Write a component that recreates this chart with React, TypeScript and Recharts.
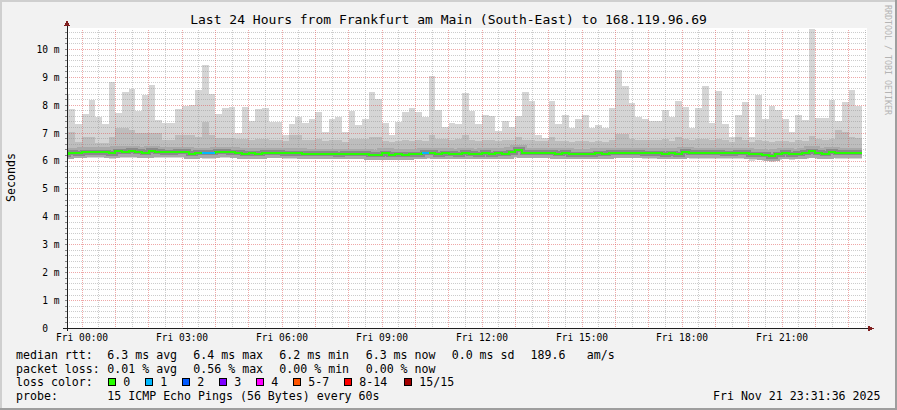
import React from "react";
import { Area, ComposedChart, Line, ReferenceLine, XAxis, YAxis } from "recharts";

const MONO = "'DejaVu Sans Mono', monospace";

const COLORS = {
  back: "#f2f2f2",
  canvas: "#ffffff",
  shadeA: "#cfcfcf",
  shadeB: "#9e9e9e",
  grid: "rgba(143,143,143,0.45)",
  mgrid: "rgba(222,79,79,0.5)",
  arrow: "#801f1f",
  axis: "#1f1f1f",
  smoke: "#d5d5d5",
  smokeMid: "#bdbdbd",
  smokeInner: "#a9a9a9",
  smokeCore: "#8a8a8a",
};

// minutes from Fri 00:00, the first bucket is cut by the left edge of the graph
const X_START = -27;
const X_END = 1413;
const DATA_END = 1404;
const bucketTimes = [X_START, ...Array.from({ length: 119 }, (_, i) => -24 + i * 12)];

// values in ms, one per 12 min bucket
const maxRtt = [
  8.42, 7.85, 7.33, 7.67, 8.18, 7.59, 7.33, 8.83, 7.71, 8.46, 8.6, 7.8, 8.36, 8.72, 7.47, 7.35, 7.37, 7.85, 7.97, 8.0,
  8.54, 9.44, 8.4, 7.68, 7.9, 7.94, 6.99, 7.92, 7.43, 7.85, 7.91, 7.41, 7.41, 6.93, 7.33, 7.59, 7.37, 7.5, 7.77, 7.04,
  7.5, 7.59, 7.05, 7.8, 7.29, 7.5, 8.48, 8.24, 7.37, 6.93, 7.41, 7.77, 7.89, 7.77, 7.59, 9.05, 7.83, 7.23, 7.35, 7.33,
  8.44, 7.8, 7.33, 7.65, 7.61, 7.08, 7.43, 7.21, 7.61, 8.48, 8.15, 6.93, 6.81, 8.15, 7.33, 7.65, 7.17, 7.5, 7.65, 7.17,
  7.29, 7.17, 7.91, 9.26, 8.7, 8.09, 7.59, 7.49, 7.43, 7.43, 7.83, 7.59, 8.16, 7.92, 7.19, 7.91, 8.69, 7.37, 8.5, 7.33,
  6.85, 7.65, 8.12, 6.85, 8.36, 7.49, 7.98, 7.83, 7.5, 7.05, 7.65, 7.47, 10.75, 7.55, 7.55, 8.18, 7.43, 8.12, 8.54, 7.98,
];

const upperRtt = [
  7.05, 7.05, 6.7, 6.85, 6.85, 6.66, 6.66, 6.85, 7.17, 7.17, 7.12, 7.0, 7.0, 7.0, 7.0, 6.75, 6.75, 6.93, 6.93, 6.93,
  6.87, 7.41, 6.93, 6.81, 6.81, 6.81, 6.78, 6.78, 6.74, 6.78, 6.8, 6.76, 6.76, 6.72, 6.93, 6.93, 6.75, 6.75, 6.78, 6.72,
  6.75, 6.75, 6.7, 6.8, 6.8, 6.8, 6.85, 6.85, 6.72, 6.7, 6.72, 6.75, 6.72, 6.75, 6.72, 6.93, 6.78, 6.78, 6.76, 6.78,
  6.93, 6.75, 6.72, 6.75, 6.75, 6.72, 6.75, 6.75, 6.85, 6.75, 6.75, 6.72, 6.72, 6.85, 6.72, 6.72, 6.7, 6.72, 6.72, 6.7,
  6.72, 6.7, 6.75, 6.97, 6.97, 6.8, 6.75, 6.75, 6.75, 6.75, 6.8, 6.72, 6.85, 6.78, 6.75, 6.78, 6.8, 6.75, 6.78, 6.75,
  6.7, 6.85, 6.75, 6.7, 6.75, 6.72, 6.7, 6.72, 6.72, 6.7, 6.75, 6.72, 6.9, 6.78, 6.75, 6.8, 7.1, 7.05, 6.85, 6.82,
];

const minRtt = [
  6.1, 6.1, 6.1, 6.1, 6.1, 6.1, 6.1, 6.08, 6.1, 6.1, 6.1, 6.1, 6.1, 6.1, 6.1, 6.1, 6.1, 6.1, 6.1, 6.08,
  6.1, 6.08, 6.08, 6.1, 6.1, 6.1, 6.1, 6.08, 6.08, 6.08, 6.1, 6.1, 6.1, 6.08, 6.08, 6.08, 6.08, 6.08, 6.08, 6.08,
  6.08, 6.06, 6.08, 6.08, 6.08, 6.08, 6.06, 6.06, 6.08, 6.06, 6.06, 6.06, 6.08, 6.08, 6.08, 6.08, 6.08, 6.08, 6.08, 6.08,
  6.08, 6.08, 6.08, 6.08, 6.06, 6.08, 6.08, 6.1, 6.12, 6.1, 6.1, 6.1, 6.1, 6.1, 6.08, 6.1, 6.06, 6.06, 6.06, 6.06,
  6.08, 6.08, 6.1, 6.1, 6.1, 6.1, 6.1, 6.08, 6.08, 6.08, 6.06, 6.08, 6.06, 6.1, 6.08, 6.08, 6.08, 6.08, 6.08, 6.08,
  6.08, 6.08, 6.08, 6.02, 6.04, 6.02, 5.97, 6.04, 6.08, 6.04, 6.06, 6.08, 6.12, 6.08, 6.06, 6.1, 6.08, 6.08, 6.08, 6.08,
];

const medianRtt = [
  6.25, 6.3, 6.28, 6.31, 6.31, 6.31, 6.31, 6.28, 6.36, 6.33, 6.37, 6.33, 6.3, 6.37, 6.34, 6.31, 6.31, 6.33, 6.33, 6.27,
  6.3, 6.3, 6.3, 6.33, 6.33, 6.32, 6.3, 6.26, 6.28, 6.26, 6.29, 6.29, 6.29, 6.28, 6.28, 6.28, 6.27, 6.27, 6.27, 6.27,
  6.27, 6.25, 6.27, 6.26, 6.26, 6.26, 6.23, 6.23, 6.28, 6.22, 6.24, 6.22, 6.25, 6.25, 6.29, 6.29, 6.24, 6.28, 6.27, 6.25,
  6.29, 6.27, 6.25, 6.29, 6.24, 6.28, 6.27, 6.31, 6.4, 6.3, 6.3, 6.3, 6.3, 6.3, 6.27, 6.3, 6.25, 6.24, 6.25, 6.24,
  6.28, 6.27, 6.3, 6.3, 6.3, 6.3, 6.3, 6.28, 6.28, 6.28, 6.24, 6.28, 6.24, 6.33, 6.3, 6.3, 6.3, 6.3, 6.3, 6.28,
  6.28, 6.3, 6.29, 6.24, 6.25, 6.23, 6.18, 6.25, 6.3, 6.25, 6.27, 6.3, 6.36, 6.3, 6.27, 6.33, 6.3, 6.3, 6.3, 6.3,
];

// buckets where 1 of 15 pings was lost
const lossOneBuckets = [21, 22, 54];

const hourTicks = [0, 180, 360, 540, 720, 900, 1080, 1260];
const yTicks = Array.from({ length: 54 }, (_, i) => Math.round(i * 2) / 10);
const majorY = yTicks.filter((v) => v > 0 && Number.isInteger(v));
const minorY = yTicks.filter((v) => v > 0 && !Number.isInteger(v));
const majorX = Array.from({ length: 24 }, (_, i) => i * 60);
const minorX = Array.from({ length: 24 }, (_, i) => 30 + i * 60);

const lossColors = [
  { label: "0", color: "#26ff00" },
  { label: "1", color: "#00b8ff" },
  { label: "2", color: "#0059ff" },
  { label: "3", color: "#7e00ff" },
  { label: "4", color: "#ff00ff" },
  { label: "5-7", color: "#ff5500" },
  { label: "8-14", color: "#ff0000" },
  { label: "15/15", color: "#a10000" },
];
const lossBoxX = [108.5, 145.5, 182.5, 219.5, 256.5, 293.5, 344.5, 404.5];

const rttStats = ["6.3 ms avg", "6.4 ms max", "6.2 ms min", "6.3 ms now", "0.0 ms sd"];
const lossStats = ["0.01 % avg", "0.56 % max", "0.00 % min", "0.00 % now"];
const statX = [107.3, 193.3, 279.3, 365.7, 451.7];

const rows = bucketTimes.map((t, i) => ({
  t,
  lo: minRtt[i],
  hi: maxRtt[i],
  up: upperRtt[i],
  med: medianRtt[i],
  loss: lossOneBuckets.includes(i) ? medianRtt[i] : lossOneBuckets.includes(i - 1) ? medianRtt[i - 1] : null,
}));
const lastRow = rows[rows.length - 1];
rows.push({ ...lastRow, t: DATA_END, loss: lossOneBuckets.includes(rows.length - 1) ? lastRow.med : null });

const pad = (n: number) => String(n).padStart(2, "0");
const fmtHour = (m: number) => `Fri ${pad(Math.floor(m / 60))}:00`;
// rrdtool keeps the unit column for the zero label too
const fmtSeconds = (v: number) => (v === 0 ? "0\u00a0\u00a0" : Number.isInteger(v) ? `${v} m` : "");

const tickFont = { fontSize: 9.6, fontFamily: MONO, fill: "#000" };
const legendText = { fontSize: 11.6, fontFamily: MONO, fill: "#000" };

function SmokeChart() {
  return (
    <ComposedChart width={897} height={410} data={rows} margin={{ top: 28.5, right: 30, bottom: 0, left: 17 }}>
      <XAxis
        type="number"
        dataKey="t"
        domain={[X_START, X_END]}
        ticks={hourTicks}
        tickFormatter={fmtHour}
        allowDataOverflow
        height={81.5}
        axisLine={false}
        tickLine={false}
        tickSize={3}
        tickMargin={2.5}
        interval={0}
        tick={tickFont}
      />
      <YAxis
        domain={[0, 10.75]}
        ticks={yTicks}
        interval={0}
        allowDataOverflow
        width={50}
        axisLine={false}
        tickLine={{ stroke: "#888" }}
        tickSize={2}
        tickMargin={5.5}
        tickFormatter={fmtSeconds}
        tick={tickFont}
      />
      <Area
        type="stepAfter"
        dataKey={(d: any) => [d.lo, d.hi]}
        stroke="none"
        fill={COLORS.smoke}
        fillOpacity={1}
        dot={false}
        activeDot={false}
        isAnimationActive={false}
      />
      <Area
        type="stepAfter"
        dataKey={(d: any) => [d.med, d.up]}
        stroke="none"
        fill={COLORS.smokeMid}
        fillOpacity={1}
        dot={false}
        activeDot={false}
        isAnimationActive={false}
      />
      {minorY.map((v) => (
        <ReferenceLine key={`hy${v}`} y={v} stroke={COLORS.grid} strokeDasharray="1 1" />
      ))}
      {majorY.map((v) => (
        <ReferenceLine key={`HY${v}`} y={v} stroke={COLORS.mgrid} strokeDasharray="1 1" />
      ))}
      {minorX.map((v) => (
        <ReferenceLine key={`vx${v}`} x={v} stroke={COLORS.grid} strokeDasharray="1 1" />
      ))}
      {majorX.map((v) => (
        <ReferenceLine key={`VX${v}`} x={v} stroke={COLORS.mgrid} strokeDasharray="1 1" />
      ))}
      <Line type="stepAfter" dataKey="med" stroke={COLORS.smokeInner} strokeWidth={10} strokeLinejoin="miter" dot={false} activeDot={false} isAnimationActive={false} />
      <Line type="stepAfter" dataKey="med" stroke={COLORS.smokeCore} strokeWidth={5} strokeLinejoin="miter" dot={false} activeDot={false} isAnimationActive={false} />
      <Line type="stepAfter" dataKey="med" stroke={lossColors[0].color} strokeWidth={2} strokeLinejoin="miter" dot={false} activeDot={false} isAnimationActive={false} />
      <Line type="stepAfter" dataKey="loss" stroke={lossColors[1].color} strokeWidth={2} strokeLinejoin="miter" connectNulls={false} dot={false} activeDot={false} isAnimationActive={false} />
    </ComposedChart>
  );
}

export default function App() {
  return (
    <div
      style={{
        position: "absolute",
        left: 0,
        top: 0,
        width: 897,
        height: 410,
        background: COLORS.back,
        shapeRendering: "crispEdges",
      }}
    >
      {/* white canvas behind the plot area */}
      <div style={{ position: "absolute", left: 67, top: 28, width: 800, height: 301, background: COLORS.canvas }} />
      <div style={{ position: "absolute", left: 0, top: 0 }}>
        <SmokeChart />
      </div>
      <svg width={897} height={410} style={{ position: "absolute", left: 0, top: 0, pointerEvents: "none" }}>
        {/* frame */}
        <rect x={0} y={0} width={897} height={2} fill={COLORS.shadeA} />
        <rect x={0} y={0} width={2} height={410} fill={COLORS.shadeA} />
        <rect x={0} y={408} width={897} height={2} fill={COLORS.shadeB} />
        <rect x={895} y={0} width={2} height={410} fill={COLORS.shadeB} />

        {/* axes with arrows */}
        <line x1={67} y1={25} x2={67} y2={331} stroke={COLORS.axis} strokeWidth={1} />
        <line x1={63} y1={328.5} x2={870} y2={328.5} stroke={COLORS.axis} strokeWidth={1} />
        <polygon points="64,26 70,26 67,19.5" fill={COLORS.arrow} />
        <polygon points="868,325.5 868,331.5 874.5,328.5" fill={COLORS.arrow} />

        <text x={448.5} y={24} textAnchor="middle" fontSize={13} fontFamily={MONO} fill="#000">
          Last 24 Hours from Frankfurt am Main (South-East) to 168.119.96.69
        </text>
        <text transform="translate(15,177.5) rotate(-90)" textAnchor="middle" style={legendText}>
          Seconds
        </text>
        <text transform="translate(884.5,5) rotate(90)" fontSize={8.3} fontFamily={MONO} fill="#b4b4b4">
          RRDTOOL / TOBI OETIKER
        </text>

        <text x={16} y={359} style={legendText}>median rtt:</text>
        {rttStats.map((s, i) => (
          <text key={s} x={statX[i]} y={359} style={legendText}>{s}</text>
        ))}
        <text x={530.5} y={359} style={legendText}>189.6</text>
        <text x={586.7} y={359} style={legendText}>am/s</text>

        <text x={16} y={372.7} style={legendText}>packet loss:</text>
        {lossStats.map((s, i) => (
          <text key={s + i} x={statX[i]} y={372.7} style={legendText}>{s}</text>
        ))}

        <text x={16} y={386.3} style={legendText}>loss color:</text>
        {lossColors.map((c, i) => (
          <g key={c.label}>
            <rect x={lossBoxX[i]} y={378.5} width={7} height={7} fill={c.color} stroke="#000" strokeWidth={1} />
            <text x={lossBoxX[i] + 14.8} y={386.3} style={legendText}>{c.label}</text>
          </g>
        ))}

        <text x={16} y={400} style={legendText}>probe:</text>
        <text x={107.3} y={400} style={legendText}>15 ICMP Echo Pings (56 Bytes) every 60s</text>
        <text x={880.5} y={400} textAnchor="end" style={legendText}>Fri Nov 21 23:31:36 2025</text>
      </svg>
    </div>
  );
}
